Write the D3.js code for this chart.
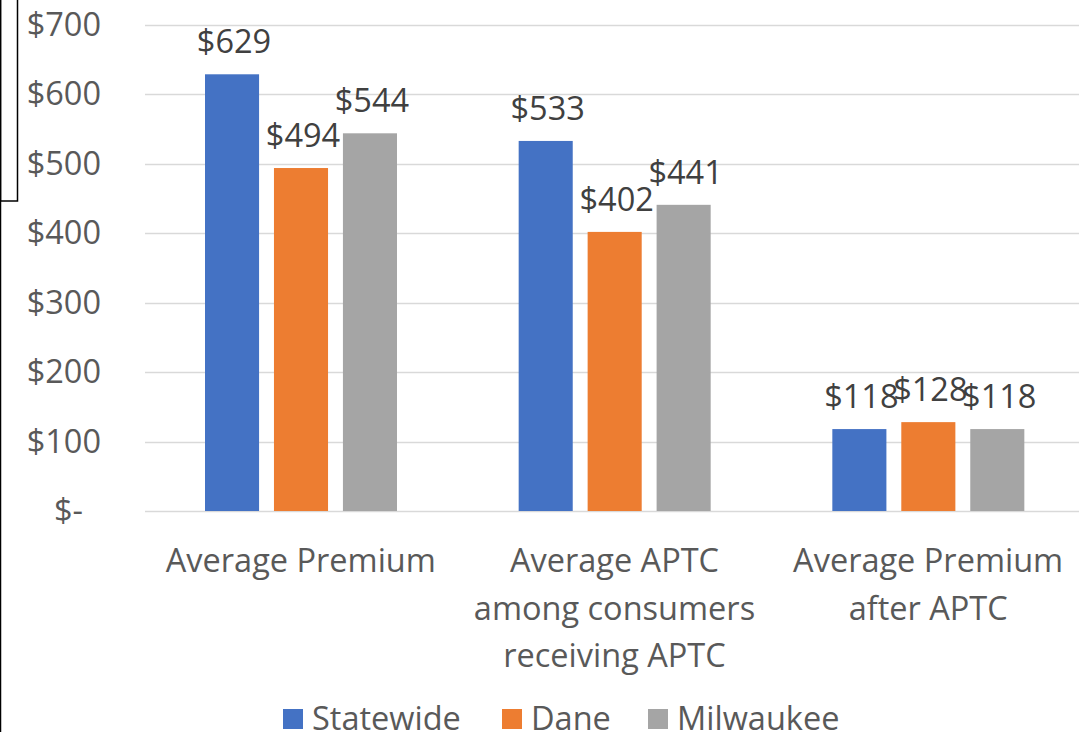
<!DOCTYPE html>
<html>
<head>
<meta charset="utf-8">
<script src="https://cdn.jsdelivr.net/npm/d3@7"></script>
<style>
  body { margin: 0; background: #fff; }
  text { font-family: "Open Sans", Lato, sans-serif; }
</style>
</head>
<body>
<svg></svg>
<script>
const categories = [["Average Premium"], ["Average APTC", "among consumers", "receiving APTC"], ["Average Premium", "after APTC"]];
const seriesNames = ["Statewide", "Dane", "Milwaukee"];
const statewide = [629, 533, 118];
const dane = [494, 402, 128];
const milwaukee = [544, 441, 118];
const yTicks = [0, 100, 200, 300, 400, 500, 600, 700];
const colors = ["#4472C4", "#ED7D31", "#A5A5A5"];

const W = 1079, H = 732;
const svg = d3.select("svg").attr("width", W).attr("height", H);

// odd frame remnants on the left
svg.append("line").attr("x1", 0.5).attr("y1", 0).attr("x2", 0.5).attr("y2", H).attr("stroke", "#000").attr("stroke-width", 1.5);
svg.append("rect").attr("x", 0.5).attr("y", -2).attr("width", 17).attr("height", 203).attr("fill", "none").attr("stroke", "#000").attr("stroke-width", 1.5);

const x0 = d3.scaleBand().domain(d3.range(categories.length)).range([144, 1085]);
const x1 = d3.scaleBand().domain(d3.range(seriesNames.length)).range([61, 253]).paddingInner(0.216).paddingOuter(0);
const y = d3.scaleLinear().domain([0, 700]).range([511, 25]);

const series = [statewide, dane, milwaukee];
const fs = 32.5;

// gridlines
svg.append("g").selectAll("line").data(yTicks).join("line")
  .attr("x1", 145).attr("x2", 1085)
  .attr("y1", d => Math.round(y(d)) + 0.5).attr("y2", d => Math.round(y(d)) + 0.5)
  .attr("stroke", "#D9D9D9").attr("stroke-width", 1.5);

// y tick labels
svg.append("g").selectAll("text").data(yTicks).join("text")
  .attr("x", d => d === 0 ? 83 : 101)
  .attr("y", d => y(d) + 11)
  .attr("text-anchor", "end")
  .attr("font-size", fs)
  .attr("fill", "#595959")
  .text(d => d === 0 ? "$-" : "$" + d);

// bars
const groups = svg.append("g").selectAll("g").data(categories).join("g")
  .attr("transform", (d, i) => `translate(${x0(i)},0)`);

groups.each(function(c, i) {
  const g = d3.select(this);
  series.forEach((s, j) => {
    g.append("rect")
      .attr("x", x1(j)).attr("width", x1.bandwidth())
      .attr("y", y(s[i])).attr("height", y(0) - y(s[i]))
      .attr("fill", colors[j]);
    g.append("text")
      .attr("x", x1(j) + x1.bandwidth() / 2 + 2)
      .attr("y", y(s[i]) - 21)
      .attr("text-anchor", "middle")
      .attr("font-size", fs)
      .attr("fill", "#404040")
      .text("$" + s[i]);
  });
  g.append("text")
    .attr("x", x0.bandwidth() / 2)
    .attr("y", 572)
    .attr("text-anchor", "middle")
    .attr("font-size", fs)
    .attr("fill", "#595959")
    .selectAll("tspan").data(c).join("tspan")
    .attr("x", x0.bandwidth() / 2)
    .attr("dy", (d, k) => k === 0 ? 0 : 47.5)
    .text(d => d);
});

// legend
const legendX = [283, 502, 648];
const legend = svg.append("g").selectAll("g").data(seriesNames).join("g")
  .attr("transform", (d, i) => `translate(${legendX[i]},709)`);
legend.append("rect").attr("width", 20).attr("height", 20).attr("fill", (d, i) => colors[i]);
legend.append("text").attr("x", 29).attr("y", 21)
  .attr("font-size", fs).attr("fill", "#595959").text(d => d);
</script>
</body>
</html>
